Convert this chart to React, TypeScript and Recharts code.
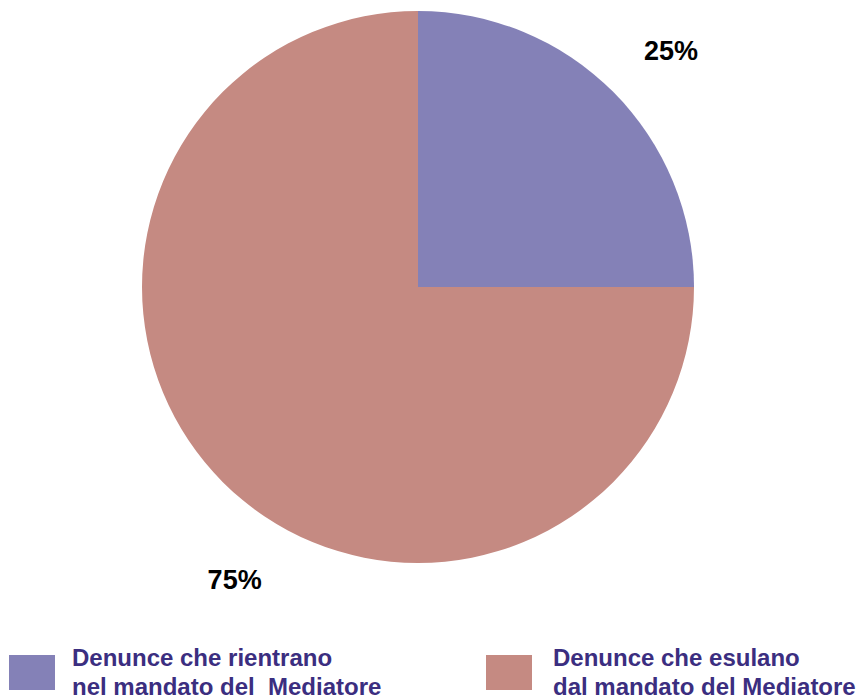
import { useEffect } from 'react'
import { PieChart, Pie, Cell, Legend } from 'recharts'

const categories = [
  ['Denunce che rientrano', 'nel mandato del  Mediatore'],
  ['Denunce che esulano', 'dal mandato del Mediatore'],
]
const values = [25, 75]
const colors = ['#8481b7', '#c58a82']

const data = categories.map((lines, i) => ({ name: lines.join(' '), lines, value: values[i] }))

// label placement (Excel "best fit" look)
const labelAngles = [43, 238]
const labelRadius = 346
const RAD = Math.PI / 180

function renderLabel(props: any) {
  const { cx, cy, index, percent } = props
  const a = labelAngles[index] * RAD
  const x = cx + labelRadius * Math.cos(a)
  const y = cy - labelRadius * Math.sin(a)
  return (
    <text
      x={x}
      y={y}
      textAnchor="middle"
      dominantBaseline="central"
      fill="#000"
      style={{ fontFamily: '"Liberation Sans", Arial, sans-serif', fontWeight: 700, fontSize: 27 }}
    >
      {Math.round(percent * 100)}%
    </text>
  )
}

const legendLeft = [9, 486]
const legendTextLeft = [63, 67]

function CustomLegend() {
  return (
    <div style={{ position: 'relative', width: 859, height: 54 }}>
      {data.map((d, i) => (
        <div key={d.name} style={{ position: 'absolute', left: legendLeft[i], top: 0 }}>
          <div style={{ position: 'absolute', left: 0, top: 12, width: 46, height: 35, background: colors[i] }} />
          <div style={{
            position: 'absolute',
            left: legendTextLeft[i],
            top: 0,
            whiteSpace: 'pre',
            fontFamily: '"Liberation Sans", Arial, sans-serif',
            fontWeight: 700,
            fontSize: 24,
            lineHeight: '29px',
            color: '#3b2e80',
          }}>
            {d.lines[0]}<br />{d.lines[1]}
          </div>
        </div>
      ))}
    </div>
  )
}

export default function App() {
  useEffect(() => {
    document.body.style.margin = '0'
  }, [])
  return (
    <div style={{ width: 859, height: 697, background: '#fff', overflow: 'hidden' }}>
      <PieChart width={859} height={697} margin={{ top: 0, right: 0, bottom: 0, left: 0 }}>
        <Pie
          data={data}
          dataKey="value"
          nameKey="name"
          cx={418}
          cy={287}
          outerRadius={276}
          startAngle={90}
          endAngle={-270}
          stroke="none"
          label={renderLabel}
          labelLine={false}
          isAnimationActive={false}
        >
          {data.map((d, i) => (
            <Cell key={d.name} fill={colors[i]} />
          ))}
        </Pie>
        <Legend
          content={<CustomLegend />}
          verticalAlign="bottom"
          wrapperStyle={{ position: 'absolute', top: 643, left: 0, bottom: 'auto', width: 859 }}
        />
      </PieChart>
    </div>
  )
}
